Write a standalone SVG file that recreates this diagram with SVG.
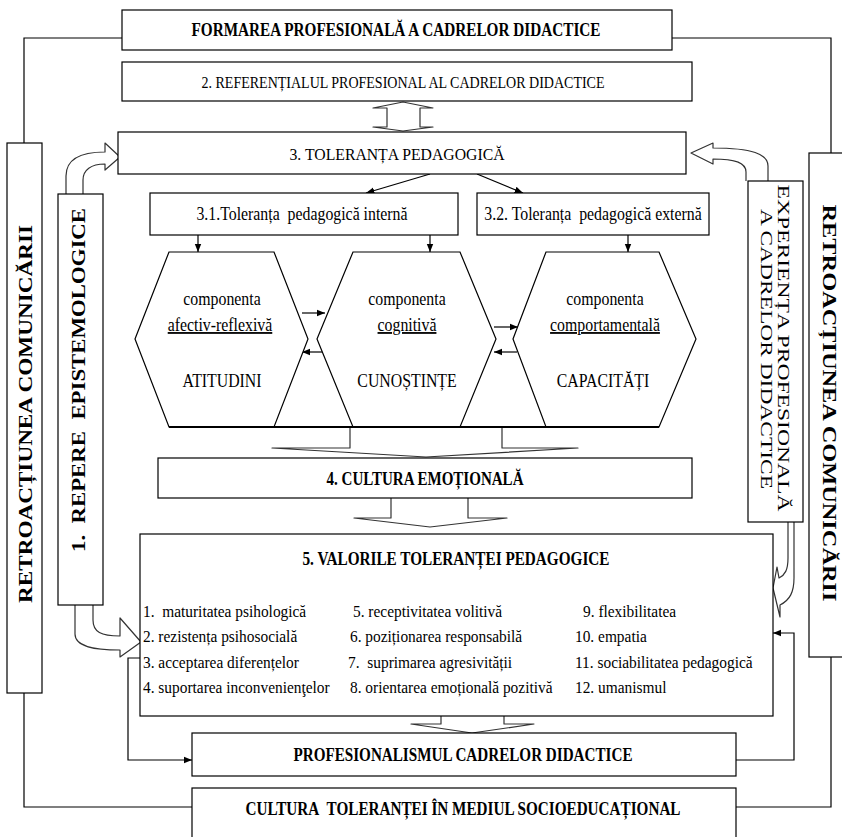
<svg xmlns="http://www.w3.org/2000/svg" width="842" height="837" viewBox="0 0 842 837">
<defs>
<marker id="ah" viewBox="0 0 10 10" refX="10" refY="5" markerWidth="7" markerHeight="7" orient="auto-start-reverse"><path d="M0,1 L10,5 L0,9 z" fill="#000"/></marker>
<style>
.box{fill:#fff;stroke:#000;stroke-width:1.2}
.blk{fill:#fff;stroke:#333;stroke-width:1.2;stroke-linejoin:round}
.ln{fill:none;stroke:#000;stroke-width:1.2}
.ar{fill:none;stroke:#000;stroke-width:1.2;marker-end:url(#ah)}
text{font-family:"Liberation Serif","Times New Roman","DejaVu Serif",serif;fill:#000}
.t{font-size:17px;text-anchor:middle}
.tb{font-size:18px;font-weight:bold;text-anchor:middle}
.li{font-size:17.5px}
.hx{font-size:18px;text-anchor:middle}
.u{text-decoration:underline}
</style>
</defs>
<rect width="842" height="837" fill="#fff"/>

<g id="connectors">
<path class="ln" d="M122,38 H24 V143"/>
<path class="ln" d="M672,38 H831 V153"/>
<path class="ln" d="M24,693 V807 H192"/>
<path class="ln" d="M831,657 V807 H736"/>
<path class="ar" d="M430,174 L366,193"/>
<path class="ar" d="M477,174 L523,193"/>
<path class="ar" d="M198,235 V252"/>
<path class="ar" d="M430,235 V252"/>
<path class="ar" d="M628,235 V252"/>
<path class="ar" d="M302,313 H325"/>
<path class="ar" d="M324,352 H302"/>
<path class="ar" d="M494,327 H518"/>
<path class="ar" d="M517,352 H494"/>
<path class="ar" d="M143,658 H128 V760 H192"/>
<path class="ar" d="M736,760 H794 V633 H773"/>
<path class="blk" d="M373,108 L403,102 L433,108 L420,108 L420,127 L433,127 L403,131 L373,127 L387,127 L387,108 Z"/>
<path class="blk" d="M66,194 L66,176 C66,160 80,152 105,152 L105,143 L120,157 L105,170 L105,164 C91,164 83,170 83,180 L83,194"/>
<path class="blk" d="M768,181 L768,166 C768,154 752,148 713,148 L713,143 L691,153 L713,164 L713,159 C736,159 746,163 746,172 L746,181"/>
<path class="blk" d="M75,605 L75,634 C75,647 95,650 120,650 L120,657 L141,642 L120,618 L120,636 C101,636 93,632 93,620 L93,605"/>
<path class="blk" d="M788,522 L788,558 C788,570 785,575 779,578 L777,567 L773,588 L780,617 L780,605 C790,600 794,592 794,578 L794,522"/>
<path class="blk" d="M350,427 V448 H272 L426,457 L578,448 H502 V427"/>
<path class="blk" d="M391,498 V518 H354 L430,527 L507,518 H468 V498"/>
<path class="blk" d="M441,716 V724 H411 L472,733 L534,724 H504 V716"/>
</g>

<g id="n-formarea"><rect class="box" x="122" y="10" width="550" height="40"/><text class="tb" x="396" y="36" textLength="409" lengthAdjust="spacingAndGlyphs">FORMAREA PROFESIONALĂ A CADRELOR DIDACTICE</text></g>
<g id="n-referential"><rect class="box" x="122" y="62" width="570" height="39"/><text class="t" x="403" y="88" textLength="403" lengthAdjust="spacingAndGlyphs">2. REFERENȚIALUL PROFESIONAL AL CADRELOR DIDACTICE</text></g>
<g id="n-toleranta"><rect class="box" x="118" y="132" width="568" height="42"/><text class="t" x="397" y="160" font-size="18" textLength="215" lengthAdjust="spacingAndGlyphs">3. TOLERANȚA PEDAGOGICĂ</text></g>
<g id="n-interna"><rect class="box" x="150" y="193" width="308" height="42"/><text class="hx" transform="scale(0.88,1)" x="343.2" y="220">3.1.Toleranța&#160; pedagogică internă</text></g>
<g id="n-externa"><rect class="box" x="477" y="193" width="232" height="42"/><text class="hx" transform="scale(0.88,1)" x="673.9" y="220">3.2. Toleranța&#160; pedagogică externă</text></g>

<g id="n-afectiv"><polygon class="box" points="135,339 169,252 274,252 308,339 274,427 169,427"/>
<g transform="scale(0.88,1)"><text class="hx" x="252.3" y="305">componenta</text><text class="hx u" x="250" y="331">afectiv-reflexivă</text><text class="hx" x="252.3" y="387">ATITUDINI</text></g></g>
<g id="n-cognitiv"><polygon class="box" points="317,339 353,252 460,252 496,339 460,427 353,427"/>
<g transform="scale(0.88,1)"><text class="hx" x="462.5" y="305">componenta</text><text class="hx u" x="462.5" y="331">cognitivă</text><text class="hx" x="462.5" y="387">CUNOȘTINȚE</text></g></g>
<g id="n-comport"><polygon class="box" points="513,339 546,252 659,252 696,339 659,427 546,427"/>
<g transform="scale(0.88,1)"><text class="hx" x="687.5" y="305">componenta</text><text class="hx u" x="687.5" y="331">comportamentală</text><text class="hx" x="685.2" y="387">CAPACITĂȚI</text></g></g>
<line x1="169" y1="427" x2="659" y2="427" stroke="#000" stroke-width="2"/>

<g id="n-cultura-emo"><rect class="box" x="158" y="458" width="534" height="40"/><text class="tb" x="425" y="485" textLength="197" lengthAdjust="spacingAndGlyphs">4. CULTURA EMOȚIONALĂ</text></g>

<g id="n-valori"><rect class="box" x="140" y="534" width="633" height="182"/>
<text class="tb" x="456" y="565" textLength="307" lengthAdjust="spacingAndGlyphs">5. VALORILE TOLERANȚEI PEDAGOGICE</text>
<g transform="scale(0.88,1)">
<text class="li" x="162.5" y="617">1.&#160; maturitatea psihologică</text>
<text class="li" x="162.5" y="642.5">2. rezistența psihosocială</text>
<text class="li" x="162.5" y="668">3. acceptarea diferențelor</text>
<text class="li" x="162.5" y="693">4. suportarea inconvenienţelor</text>
<text class="li" x="401.1" y="617">5. receptivitatea volitivă</text>
<text class="li" x="397.7" y="642.5">6. poziționarea responsabilă</text>
<text class="li" x="395.5" y="668">7.&#160; suprimarea agresivității</text>
<text class="li" x="397.7" y="693">8. orientarea emoțională pozitivă</text>
<text class="li" x="662.5" y="617">9. flexibilitatea</text>
<text class="li" x="653.4" y="642.5">10. empatia</text>
<text class="li" x="653.4" y="668">11. sociabilitatea pedagogică</text>
<text class="li" x="653.4" y="693">12. umanismul</text>
</g>
</g>

<g id="n-profesionalism"><rect class="box" x="192" y="733" width="544" height="43"/><text class="tb" x="463" y="761" textLength="339" lengthAdjust="spacingAndGlyphs">PROFESIONALISMUL CADRELOR DIDACTICE</text></g>
<g id="n-cultura-tol"><rect class="box" x="192" y="788" width="544" height="60"/><text class="tb" x="463" y="815" textLength="435" lengthAdjust="spacingAndGlyphs">CULTURA&#160; TOLERANȚEI ÎN MEDIUL SOCIOEDUCAȚIONAL</text></g>

<g id="n-retro-left"><rect class="box" x="7" y="143" width="35" height="550"/><text class="tb" transform="translate(32,414) rotate(-90)" textLength="378" lengthAdjust="spacingAndGlyphs">RETROACȚIUNEA COMUNICĂRII</text></g>
<g id="n-repere"><rect class="box" x="58" y="194" width="45" height="411"/><text class="tb" transform="translate(85,380) rotate(-90)" textLength="344" lengthAdjust="spacingAndGlyphs">1.&#160; REPERE&#160; EPISTEMOLOGICE</text></g>
<g id="n-retro-right"><rect class="box" x="809" y="153" width="40" height="504"/><text class="tb" transform="translate(823,403) rotate(90)" textLength="397" lengthAdjust="spacingAndGlyphs">RETROACȚIUNEA COMUNICĂRII</text></g>
<g id="n-experienta"><rect class="box" x="748" y="181" width="55" height="341"/>
<text class="t" transform="translate(778,348) rotate(90)" textLength="327" lengthAdjust="spacingAndGlyphs">EXPERIENȚA PROFESIONALĂ</text>
<text class="t" transform="translate(761,349) rotate(90)" textLength="280" lengthAdjust="spacingAndGlyphs">A CADRELOR DIDACTICE</text></g>
</svg>
